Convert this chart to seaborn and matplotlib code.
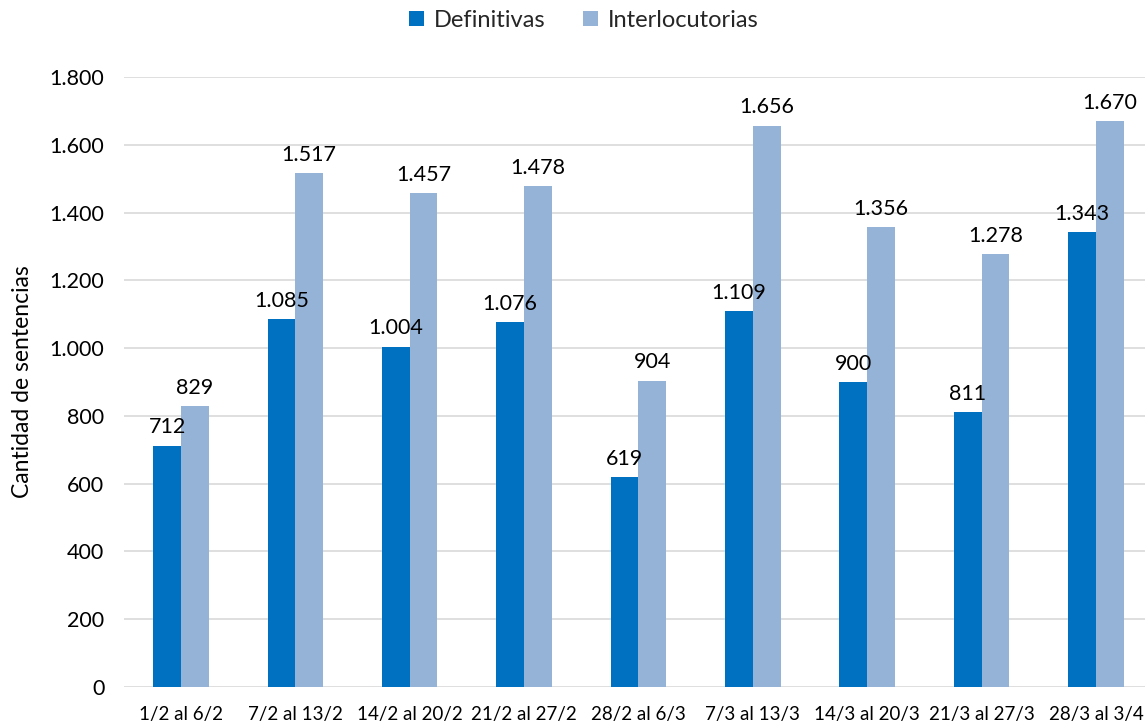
import matplotlib
matplotlib.use("Agg")
import matplotlib.pyplot as plt
import seaborn as sns
import pandas as pd

categories = ["1/2 al 6/2", "7/2 al 13/2", "14/2 al 20/2", "21/2 al 27/2", "28/2 al 6/3",
              "7/3 al 13/3", "14/3 al 20/3", "21/3 al 27/3", "28/3 al 3/4"]
definitivas = [712, 1085, 1004, 1076, 619, 1109, 900, 811, 1343]
interlocutorias = [829, 1517, 1457, 1478, 904, 1656, 1356, 1278, 1670]
series_names = ["Definitivas", "Interlocutorias"]
yticks = [0, 200, 400, 600, 800, 1000, 1200, 1400, 1600, 1800]

df = pd.DataFrame({
    "Semana": categories * 2,
    "Tipo": [series_names[0]] * len(categories) + [series_names[1]] * len(categories),
    "Cantidad": definitivas + interlocutorias,
})

sns.set_theme(style="white")
plt.rcParams["font.family"] = ["Lato", "DejaVu Sans"]

def fmt(v):
    return f"{int(round(v)):,}".replace(",", ".")

fig = plt.figure(figsize=(11.45, 7.25), dpi=100)
ax = fig.add_axes([0.1081, 0.0524, 0.899, 0.8414])

palette = {"Definitivas": "#0070C0", "Interlocutorias": "#95B3D7"}
sns.barplot(data=df, x="Semana", y="Cantidad", hue="Tipo", palette=palette,
            width=0.485, gap=0, saturation=1, ax=ax, legend=True, errorbar=None,
            linewidth=0)

ax.set_ylim(0, 1800)
ax.set_yticks(yticks)
ax.set_yticklabels([fmt(t) for t in yticks], fontsize=15.5, color="#000000")
ax.tick_params(axis="x", labelsize=13.5, colors="#000000", pad=14, length=0)
ax.tick_params(axis="y", pad=14, length=0)
ax.set_xlabel("")
ax.set_ylabel("Cantidad de sentencias", fontsize=16.5, color="#000000", labelpad=12)
ax.yaxis.grid(True, color="#D9D9D9", linewidth=1.2)
ax.set_axisbelow(True)
for s in ax.spines.values():
    s.set_visible(False)

for cont in ax.containers:
    ax.bar_label(cont, labels=[fmt(b.get_height()) for b in cont], padding=6,
                 fontsize=15.5, color="#000000")

handles, labels = ax.get_legend_handles_labels()
ax.legend(handles, labels, loc="upper center", bbox_to_anchor=(0.5 - 55 / 1029.4, 1.145),
          ncol=2, frameon=False, fontsize=17, handlelength=0.65, handleheight=0.65,
          handletextpad=0.4, columnspacing=1.6)

fig.savefig("out.png", dpi=100)
